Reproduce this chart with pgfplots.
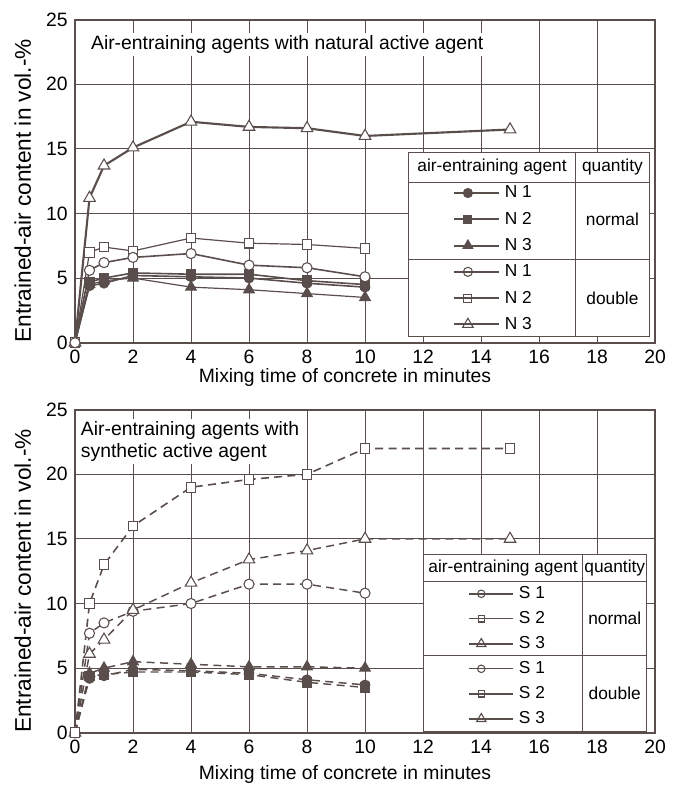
\documentclass[border=0pt]{standalone}
\usepackage{fontspec}
\setmainfont{Liberation Sans}
\usepackage{pgfplots}
\pgfplotsset{compat=1.18}
\definecolor{mainc}{RGB}{90,78,76}

\pgfplotsset{
  airaxis/.style={
    scale only axis, width=435pt, height=242.25pt,
    xmin=0, xmax=20, ymin=0, ymax=25,
    xtick={0,2,...,20}, ytick={0,5,...,25},
    grid=major, major grid style={line width=0.75pt, draw=mainc},
    axis line style={line width=1.5pt, draw=mainc},
    major tick length=0pt, tick style={draw=none},
    /pgf/number format/assume math mode=true,
    ticklabel style={font=\fontsize{14.5}{17}\selectfont},
    xticklabel style={yshift=-2pt},
    yticklabel style={xshift=-2pt},
    xlabel={Mixing time of concrete in minutes},
    ylabel={Entrained-air content in vol.-\%},
    xlabel style={font=\fontsize{14.5}{17}\selectfont, anchor=center},
    ylabel style={font=\fontsize{17}{20}\selectfont, at={(axis description cs:-0.09,0.47)}, anchor=center},
    clip=false,
    legend image code/.code={
      \draw[mark repeat=2,mark phase=2,##1] plot coordinates {(0pt,0pt) (10.5pt,0pt) (21pt,0pt)};
      \path (0pt,0pt) -- (33.5pt,0pt);
    },
    legend style={draw=none, fill=none, inner sep=0pt, outer sep=0pt,
      row sep=0pt, column sep=0pt,
      cells={anchor=west, inner sep=0pt, font=\fontsize{13}{15}\selectfont}},
  },
  ln/.style={mainc, line width=#1},
  mk/.style={mark options={solid, draw=mainc, line width=0.8pt, fill=#1}},
  fc/.style={mark=*, mark size=3.6pt, mk=mainc},
  fs/.style={mark=square*, mark size=3.6pt, mk=mainc},
  ft/.style={mark=triangle*, mark size=4.6pt, mk=mainc},
  oc/.style={mark=*, mark size=3.8pt, mk=white},
  os/.style={mark=square*, mark size=3.6pt, mk=white},
  ot/.style={mark=triangle*, mark size=5pt, mk=white},
  dsh/.style={dash pattern=on 6pt off 4pt},
}

\begin{document}
\begin{tikzpicture}
\useasboundingbox (-56.25pt,-334.7pt) rectangle (450pt,257pt);

% natural active agent
\begin{axis}[airaxis, at={(0,0)},
  xlabel style={at={(axis description cs:0.4655,-0.108)}},
  legend style={at={(axis cs:13.03,12.60)}, anchor=north west,
    cells={minimum height=19.7pt}}]
\addplot[ln=1.2pt, fc, forget plot] coordinates {(0,0) (0.5,4.4) (1,4.6) (2,5.2) (4,5.1) (6,5.0) (8,4.6) (10,4.3)};
\addplot[ln=1.2pt, fs, forget plot] coordinates {(0,0) (0.5,4.7) (1,5.0) (2,5.4) (4,5.3) (6,5.3) (8,4.8) (10,4.5)};
\addplot[ln=0.9pt, ft, forget plot] coordinates {(0,0) (0.5,4.5) (1,4.8) (2,5.0) (4,4.3) (6,4.1) (8,3.8) (10,3.5)};
\addplot[ln=0.9pt, os, forget plot] coordinates {(0,0) (0.5,7.0) (1,7.4) (2,7.1) (4,8.1) (6,7.7) (8,7.6) (10,7.3)};
\addplot[ln=1.6pt, ot, forget plot] coordinates {(0,0) (0.5,11.2) (1,13.7) (2,15.1) (4,17.1) (6,16.7) (8,16.6) (10,16.0) (15,16.5)};
\addplot[ln=1.2pt, oc, forget plot] coordinates {(0,0) (0.5,5.6) (1,6.2) (2,6.6) (4,6.9) (6,6.0) (8,5.8) (10,5.1)};

\node[fill=white, anchor=west, inner xsep=1pt, inner ysep=2pt, font=\fontsize{14.5}{17}\selectfont]
  at (axis cs:0.5,23.1) {Air-entraining agents with natural active agent};

\filldraw[fill=white, draw=mainc, line width=0.75pt] (axis cs:11.49,0.47) rectangle (axis cs:19.80,14.73);
\draw[mainc, line width=0.75pt] (axis cs:11.49,12.43) -- (axis cs:19.80,12.43);
\draw[mainc, line width=0.75pt] (axis cs:11.49,6.47) -- (axis cs:19.80,6.47);
\draw[mainc, line width=0.75pt] (axis cs:17.27,0.47) -- (axis cs:17.27,14.73);
\begin{scope}[every node/.style={font=\fontsize{13}{15}\selectfont}]
\node at (axis cs:14.38,13.58) {air-entraining agent};
\node at (axis cs:18.53,13.58) {quantity};
\node at (axis cs:18.53,9.53) {normal};
\node at (axis cs:18.53,3.47) {double};
\end{scope}

\addlegendimage{ln=1.5pt, mark=*, mark size=3.4pt, mk=mainc}
\addlegendentry{\hspace{2pt}N 1}
\addlegendimage{ln=1.5pt, mark=square*, mark size=3pt, mk=mainc}
\addlegendentry{\hspace{2pt}N 2}
\addlegendimage{ln=1.5pt, mark=triangle*, mark size=4.2pt, mk=mainc}
\addlegendentry{\hspace{2pt}N 3}
\addlegendimage{ln=1.5pt, mark=*, mark size=3.4pt, mk=white}
\addlegendentry{\hspace{2pt}N 1}
\addlegendimage{ln=1.5pt, mark=square*, mark size=3pt, mk=white}
\addlegendentry{\hspace{2pt}N 2}
\addlegendimage{ln=1.5pt, mark=triangle*, mark size=4.6pt, mk=white}
\addlegendentry{\hspace{2pt}N 3}
\end{axis}

% synthetic active agent
\begin{axis}[airaxis, at={(0,-292.5pt)},
  xlabel style={at={(axis description cs:0.4655,-0.13)}},
  legend style={at={(axis cs:13.56,11.72)}, anchor=north west,
    cells={minimum height=18.75pt}},
  legend image code/.code={
      \draw[mark repeat=2,mark phase=2,#1] plot coordinates {(0pt,0pt) (9pt,0pt) (20pt,0pt)};
      \path (0pt,0pt) -- (32.5pt,0pt);
    }]
\addplot[ln=1.1pt, dsh, ft, forget plot] coordinates {(0,0) (0.5,4.6) (1,5.0) (2,5.5) (4,5.3) (6,5.1) (8,5.1) (10,5.0)};
\addplot[ln=1.1pt, dsh, fc, forget plot] coordinates {(0,0) (0.5,4.2) (1,4.4) (2,4.9) (4,4.8) (6,4.6) (8,4.1) (10,3.7)};
\addplot[ln=1.1pt, dsh, fs, forget plot] coordinates {(0,0) (0.5,4.4) (1,4.5) (2,4.7) (4,4.7) (6,4.5) (8,3.9) (10,3.5)};
\addplot[ln=1.1pt, dsh, oc, forget plot] coordinates {(0,0) (0.5,7.7) (1,8.5) (2,9.4) (4,10.0) (6,11.5) (8,11.5) (10,10.8)};
\addplot[ln=1.1pt, dsh, ot, forget plot] coordinates {(0,0) (0.5,6.1) (1,7.2) (2,9.5) (4,11.6) (6,13.4) (8,14.1) (10,15.0) (15,15.0)};
\addplot[ln=1.2pt, dsh, os, forget plot] coordinates {(0,0) (0.5,10.0) (1,13.0) (2,16.0) (4,19.0) (6,19.6) (8,20.0) (10,22.0) (15,22.0)};

\node[fill=white, anchor=west, align=left, inner xsep=1pt, inner ysep=2pt, font=\fontsize{14.5}{16.7}\selectfont]
  at (axis cs:0.15,22.55) {Air-entraining agents with\\synthetic active agent};

\filldraw[fill=white, draw=mainc, line width=0.75pt] (axis cs:12.01,0.12) rectangle (axis cs:19.71,13.79);
\draw[mainc, line width=0.75pt] (axis cs:12.01,11.68) -- (axis cs:19.71,11.68);
\draw[mainc, line width=0.75pt] (axis cs:12.01,5.98) -- (axis cs:19.71,5.98);
\draw[mainc, line width=0.75pt] (axis cs:17.51,0.12) -- (axis cs:17.51,13.79);
\begin{scope}[every node/.style={font=\fontsize{13}{15}\selectfont}]
\node at (axis cs:14.76,12.73) {air-entraining agent};
\node at (axis cs:18.61,12.73) {quantity};
\node at (axis cs:18.61,8.82) {normal};
\node at (axis cs:18.61,3.09) {double};
\end{scope}

\addlegendimage{ln=1.5pt, mark=*, mark size=2.8pt, mk=white}
\addlegendentry{\hspace{2pt}S 1}
\addlegendimage{ln=0.8pt, mark=square*, mark size=2.4pt, mk=white}
\addlegendentry{\hspace{2pt}S 2}
\addlegendimage{ln=1.5pt, mark=triangle*, mark size=4pt, mk=white}
\addlegendentry{\hspace{2pt}S 3}
\addlegendimage{ln=0.9pt, mark=*, mark size=2.8pt, mk=white}
\addlegendentry{\hspace{2pt}S 1}
\addlegendimage{ln=1.5pt, mark=square*, mark size=2.4pt, mk=white}
\addlegendentry{\hspace{2pt}S 2}
\addlegendimage{ln=1.5pt, mark=triangle*, mark size=4pt, mk=white}
\addlegendentry{\hspace{2pt}S 3}
\end{axis}
\end{tikzpicture}
\end{document}
